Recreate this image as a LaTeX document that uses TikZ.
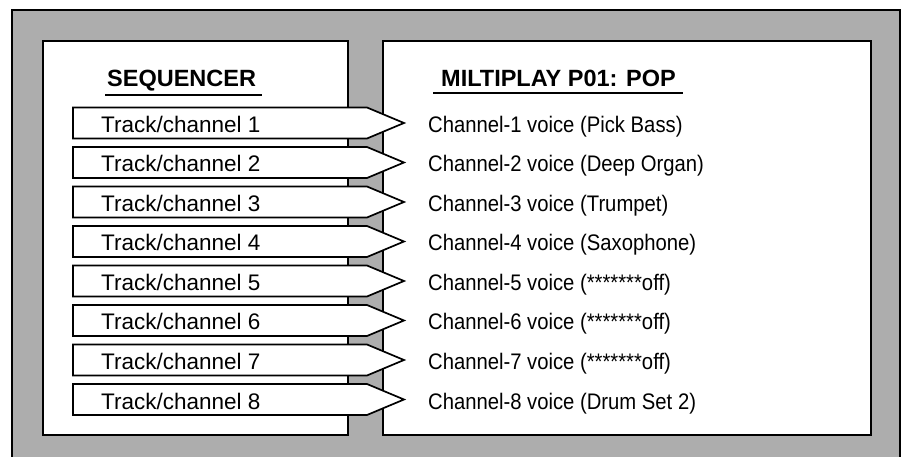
\documentclass[tikz,border=0pt]{standalone}
\usepackage{fontspec}
\setmainfont{Liberation Sans}
\newfontfamily\narrowf[FakeStretch=0.9]{Liberation Sans}
\begin{document}
\begin{tikzpicture}[x=1pt,y=-1pt,
  hatch/.style={fill=black!32},
  panel/.style={draw=black,line width=2pt,fill=white},
  trackbox/.style={draw=black,line width=1.7pt,fill=white,line join=miter},
  tracktext/.style={anchor=base west,inner sep=0pt,font=\fontsize{22.5}{26}\selectfont},
  voicetext/.style={anchor=base west,inner sep=0pt,font=\narrowf\fontsize{22.5}{26}\selectfont},
  head/.style={anchor=base west,inner sep=0pt,font=\bfseries\fontsize{23.5}{27}\selectfont},
  uline/.style={line width=1.4pt}]
\useasboundingbox (0,0) rectangle (903,457);
\fill[hatch] (12,10) rectangle (900,457);
\draw[line width=1.8pt] (12,457) -- (12,10) -- (900,10) -- (900,457);
\draw[panel] (43,41) rectangle (348,435);
\draw[panel] (383,41) rectangle (871,435);
\node[head] (seq) at (107,87) {SEQUENCER};
\draw[uline] (seq.base west) ++(-2,8) -- ++(157,0);
\node[head] (mp) at (441,87) {MILTIPLAY P01: POP};
\draw[uline] (mp.base west) ++(-8,6) -- ++(250,0);
\foreach \i/\v in {1/Pick Bass, 2/Deep Organ, 3/Trumpet, 4/Saxophone, 5/*******off, 6/*******off, 7/*******off, 8/Drum Set 2} {
  \pgfmathsetmacro\c{123+(\i-1)*39.5}
  \draw[trackbox] (73,\c-15.5) -- (367,\c-15.5) -- (404,\c) -- (367,\c+15.5) -- (73,\c+15.5) -- cycle;
  \node[tracktext] (t\i) at (101,\c+9.5) {Track/channel \i};
  \node[voicetext] (v\i) at (428,\c+9.5) {Channel-\i\ voice (\v)};
}
\end{tikzpicture}
\end{document}
